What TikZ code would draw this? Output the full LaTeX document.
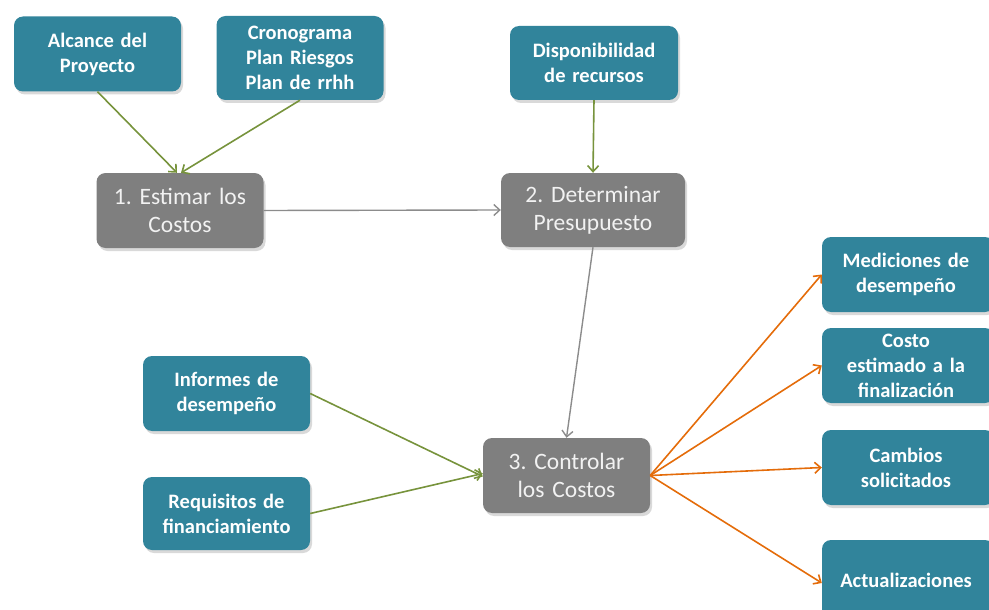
\documentclass[tikz,border=0pt]{standalone}
\usepackage{fontspec}
\setmainfont{Carlito}[WordSpace=0.6]
\usetikzlibrary{arrows.meta,shadows}
\definecolor{teal}{HTML}{31849B}
\definecolor{boxgray}{HTML}{7F7F7F}
\definecolor{lgreen}{HTML}{77933C}
\definecolor{lorange}{HTML}{E46C0A}
\definecolor{lgray}{HTML}{8C8C8C}
\definecolor{gtext}{HTML}{F2F2F2}
\tikzset{
  tealbox/.style={draw=none, fill=teal, rounded corners=9pt, text=white,
    font=\fontsize{20.5}{25}\selectfont\bfseries\frenchspacing, align=center, inner sep=0pt,
    minimum width=167pt, minimum height=75pt, text width=164pt,
    drop shadow={opacity=0.3, shadow xshift=2pt, shadow yshift=-3pt}},
  graybox/.style={draw=none, fill=boxgray, rounded corners=9pt, text=gtext,
    font=\fontsize{23.5}{28}\selectfont\frenchspacing, align=center, inner sep=0pt,
    minimum width=167pt, minimum height=75pt, text width=164pt,
    drop shadow={opacity=0.3, shadow xshift=2pt, shadow yshift=-3pt}},
  garrow/.style={draw=lgreen, line width=1.6pt, -{Straight Barb[length=6pt,width=11pt]}},
  oarrow/.style={draw=lorange, line width=1.6pt, -{Straight Barb[length=6pt,width=11pt]}},
  parrow/.style={draw=lgray, line width=1.4pt, -{Straight Barb[length=6pt,width=11pt]}},
}
\begin{document}
\begin{tikzpicture}[x=1pt,y=-1pt]
\useasboundingbox (0,0) rectangle (989,610);
\begin{scope}
\clip (0,0) rectangle (989,610);
\node[tealbox] (alc) at (97.5,54) {Alcance del\\Proyecto};
\node[tealbox, minimum height=84pt] (cro) at (300,58) {Cronograma\\Plan Riesgos\\Plan de rrhh};
\node[tealbox, minimum width=168pt, minimum height=74pt] (dis) at (594,63) {Disponibilidad\\de recursos};
\node[graybox] (est) at (180,210.5) {1. Estimar los\\Costos};
\node[graybox, minimum width=184pt, minimum height=74pt] (det) at (593,210) {2. Determinar\\Presupuesto};
\node[graybox] (con) at (566.5,475.5) {3. Controlar\\los Costos};
\node[tealbox] (inf) at (226.5,393.5) {Informes de\\desempeño};
\node[tealbox, minimum height=73pt] (req) at (226.5,513.5) {Requisitos de\\financiamiento};
\node[tealbox, minimum width=172pt] (med) at (908,274.5) {\hspace*{-4pt}Mediciones de\\\hspace*{-4pt}desempeño};
\node[tealbox, minimum width=172pt] (cos) at (908,365.5) {\hspace*{-4pt}Costo\\\hspace*{-4pt}estimado a la\\\hspace*{-4pt}finalización};
\node[tealbox, minimum width=172pt] (cam) at (908,467.5) {\hspace*{-4pt}Cambios\\\hspace*{-4pt}solicitados};
\node[tealbox, minimum width=172pt, minimum height=80pt] (act) at (908,580) {\hspace*{-4pt}Actualizaciones};
\end{scope}
\draw[garrow] (alc.south) -- ([xshift=-3pt]est.north);
\draw[garrow] (cro.south) -- ([xshift=1pt]est.north);
\draw[garrow] (dis.south) -- (det.north);
\draw[parrow] (est.east) -- (det.west);
\draw[parrow] (det.south) -- (con.north);
\draw[garrow] (inf.east) -- ([yshift=-1pt]con.west);
\draw[garrow] (req.east) -- ([yshift=2pt]con.west);
\draw[oarrow] (con.east) -- (med.west);
\draw[oarrow] (con.east) -- (cos.west);
\draw[oarrow] (con.east) -- (cam.west);
\draw[oarrow] (con.east) -- ([yshift=-3pt]act.west);
\end{tikzpicture}
\end{document}
